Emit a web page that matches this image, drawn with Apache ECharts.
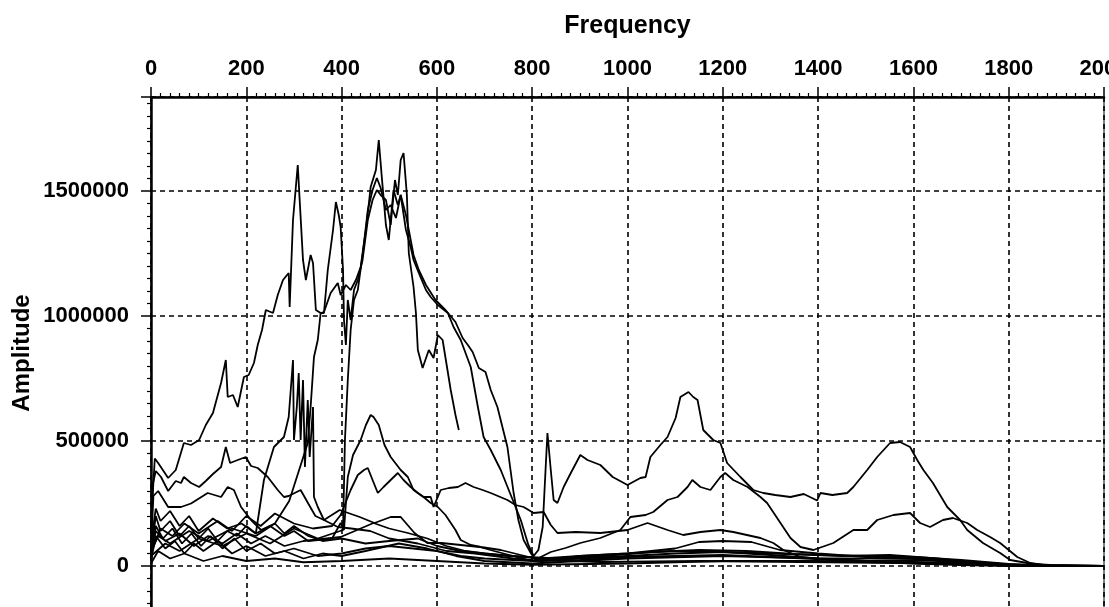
<!DOCTYPE html>
<html>
<head>
<meta charset="utf-8">
<script src="https://cdn.jsdelivr.net/npm/echarts@6/dist/echarts.min.js"></script>
<style>
  html, body { margin: 0; padding: 0; background: #fff; }
  #chart { width: 1109px; height: 607px; }
</style>
</head>
<body>
<div id="chart"></div>
<script>
// Spectra: each trace is a list of [frequency, amplitude] points.
const traceA = [
  [0,150000],[4,300000],[8,430000],[15,412000],[36,352000],[52,384000],[69,492000],[84,484000],
  [101,504000],[115,564000],[130,612000],[147,732000],[157,824000],[161,676000],[172,684000],
  [182,636000],[195,756000],[205,764000],[216,812000],[224,884000],[233,944000],[241,1024000],
  [256,1012000],[266,1084000],[277,1144000],[289,1172000],[291,1036000],[298,1384000],
  [308,1604000],[312,1464000],[319,1224000],[325,1144000],[335,1244000],[340,1212000],
  [346,1024000],[356,1012000],[363,1016000],[377,1092000],[392,1132000],[398,1084000],
  [409,1124000],[419,1104000],[430,1144000],[440,1196000],[451,1344000],[461,1516000],
  [472,1584000],[478,1704000],[484,1564000],[493,1364000],[499,1304000],[509,1504000],
  [518,1444000],[524,1484000],[535,1344000],[545,1276000],[551,1224000],[562,1172000],
  [577,1104000],[587,1076000],[602,1044000],[623,1012000],[635,956000],[650,904000],
  [671,796000],[686,636000],[698,516000],[713,464000],[734,384000],[755,284000],[776,184000],
  [792,84000],[803,40000],[813,64000],[822,156000],[828,384000],[832,532000],[839,384000],
  [845,264000],[853,252000],[866,316000],[881,372000],[901,444000],[916,424000],[943,404000],
  [969,356000],[1000,324000],[1027,352000],[1038,356000],[1048,436000],[1069,484000],
  [1084,516000],[1101,592000],[1111,676000],[1128,696000],[1138,676000],[1147,664000],
  [1159,544000],[1180,504000],[1195,492000],[1209,412000],[1237,356000],[1264,304000],
  [1285,292000],[1310,284000],[1342,276000],[1370,288000],[1398,262000],[1405,292000],
  [1430,284000],[1461,292000],[1474,316000],[1503,384000],[1524,436000],[1551,492000],
  [1572,496000],[1593,476000],[1608,424000],[1621,384000],[1641,332000],[1671,236000],
  [1698,184000],[1713,144000],[1746,92000],[1782,52000],[1803,24000],[1851,8000],[1887,4000],
  [2000,0]
];
const traceB = [
  [0,60000],[15,120000],[40,90000],[80,140000],[120,100000],[170,150000],[220,120000],
  [260,170000],[290,260000],[329,492000],[335,636000],[342,836000],[350,904000],[356,1012000],
  [363,1012000],[371,1184000],[382,1344000],[388,1456000],[394,1404000],[398,1356000],
  [403,1184000],[405,984000],[409,884000],[413,1064000],[419,984000],[426,1104000],
  [434,1144000],[444,1224000],[455,1384000],[465,1464000],[474,1504000],[482,1484000],
  [493,1464000],[503,1364000],[512,1544000],[518,1484000],[524,1624000],[530,1652000],
  [537,1484000],[541,1252000],[551,1116000],[556,1012000],[560,864000],[570,792000],
  [583,864000],[593,832000],[602,924000],[612,904000],[629,704000],[639,604000],[646,544000]
];
const traceC = [
  [0,40000],[30,90000],[60,60000],[100,110000],[150,80000],[200,130000],[250,90000],
  [300,150000],[350,110000],[403,144000],[407,504000],[413,744000],[419,944000],[426,1064000],
  [434,1104000],[444,1244000],[455,1424000],[465,1504000],[474,1552000],[482,1512000],
  [493,1424000],[503,1444000],[514,1392000],[524,1484000],[535,1404000],[545,1304000],
  [551,1244000],[562,1184000],[577,1124000],[597,1064000],[618,1024000],[639,976000],
  [654,912000],[665,884000],[675,856000],[688,792000],[702,776000],[713,704000],[727,636000],
  [748,476000],[761,292000],[771,184000],[782,104000],[797,52000],[807,24000],[818,36000],
  [839,56000],[870,72000],[901,92000],[943,112000],[985,144000],[1006,196000],[1038,204000],
  [1054,216000],[1084,264000],[1105,276000],[1126,316000],[1136,344000],[1153,316000],
  [1174,304000],[1195,356000],[1205,372000],[1222,344000],[1252,316000],[1279,276000],
  [1293,252000],[1321,172000],[1342,112000],[1363,76000],[1390,64000],[1432,92000],
  [1474,144000],[1503,144000],[1524,184000],[1558,204000],[1593,212000],[1614,172000],
  [1635,156000],[1662,184000],[1683,192000],[1713,172000],[1734,144000],[1761,116000],
  [1782,92000],[1818,36000],[1845,12000],[1887,0],[2000,0]
];
const traceD = [
  [0,90000],[10,230000],[20,180000],[40,220000],[60,160000],[80,200000],[100,140000],
  [130,190000],[160,150000],[190,170000],[220,130000],[250,160000],[280,120000],[300,140000],
  [330,100000],[380,110000],[398,172000],[405,144000],[413,356000],[424,444000],[440,504000],
  [451,564000],[461,604000],[467,596000],[478,564000],[490,484000],[503,436000],[524,384000],
  [539,356000],[551,304000],[572,276000],[587,276000],[593,236000],[608,304000],[625,312000],
  [644,316000],[660,332000],[677,316000],[696,304000],[713,292000],[748,264000],[765,244000],
  [782,236000],[803,212000],[824,216000],[839,164000],[853,132000],[891,136000],[943,132000],
  [1000,144000],[1042,172000],[1084,144000],[1117,124000],[1153,136000],[1195,144000],
  [1222,136000],[1279,112000],[1306,92000],[1327,64000],[1363,36000],[1426,24000],
  [1510,20000],[1614,24000],[1698,16000],[1782,8000],[1866,0],[2000,0]
];
const traceE = [
  [0,50000],[20,150000],[45,120000],[70,170000],[100,130000],[140,180000],[170,140000],
  [200,200000],[230,160000],[260,210000],[300,170000],[340,150000],[380,160000],[398,204000],
  [419,304000],[434,364000],[447,384000],[455,392000],[465,344000],[476,292000],[488,316000],
  [503,344000],[518,372000],[530,344000],[545,316000],[560,292000],[572,276000],[587,252000],
  [602,236000],[618,204000],[639,144000],[650,104000],[671,84000],[692,76000],[734,64000],
  [776,44000],[818,24000],[943,16000],[1153,20000],[1363,16000],[1572,12000],[1782,4000],
  [2000,0]
];
const traceF = [
  [0,100000],[4,330000],[10,380000],[21,356000],[36,300000],[52,340000],[63,332000],
  [69,356000],[84,332000],[101,316000],[115,340000],[130,368000],[147,396000],[157,476000],
  [166,412000],[182,424000],[199,436000],[210,400000],[224,392000],[245,356000],[266,304000],
  [279,276000],[289,280000],[314,304000],[330,250000],[345,200000],[363,184000],[396,224000],
  [438,196000],[469,172000],[503,196000],[524,196000],[553,132000],[580,92000],[610,92000],
  [650,84000],[690,76000],[720,60000],[760,40000],[800,20000],[900,24000],[1000,36000],
  [1100,40000],[1200,44000],[1300,36000],[1400,28000],[1500,20000],[1600,16000],
  [1700,12000],[1800,4000],[1900,0],[2000,0]
];
const traceG = [
  [0,60000],[5,280000],[15,300000],[36,236000],[63,236000],[84,250000],[119,292000],
  [147,276000],[161,316000],[174,304000],[189,236000],[210,184000],[231,144000],[260,170000],
  [280,130000],[300,160000],[330,120000],[360,100000],[400,110000],[450,90000],[500,100000],
  [560,110000],[600,80000],[650,60000],[700,50000],[750,40000],[850,30000],[950,40000],
  [1050,56000],[1150,64000],[1250,60000],[1350,48000],[1450,40000],[1550,44000],
  [1650,30000],[1750,10000],[1850,0],[2000,0]
];
const traceH = [
  [0,50000],[10,200000],[20,140000],[40,180000],[60,120000],[80,160000],[100,110000],
  [120,150000],[140,100000],[160,140000],[180,120000],[200,160000],[220,130000],[237,344000],
  [258,476000],[279,516000],[289,596000],[298,824000],[300,504000],[306,636000],[310,772000],
  [314,504000],[319,744000],[323,396000],[329,664000],[333,436000],[340,636000],[342,276000],
  [350,236000],[363,184000],[392,156000],[420,150000],[460,140000],[500,110000],[560,90000],
  [620,60000],[680,50000],[760,30000],[820,20000],[900,40000],[1000,50000],[1100,60000],
  [1200,56000],[1300,50000],[1400,44000],[1500,40000],[1600,36000],[1700,24000],[1800,8000],
  [1900,0],[2000,0]
];
const traceI = [
  [0,30000],[10,160000],[25,110000],[45,150000],[65,90000],[85,130000],[105,80000],
  [125,120000],[150,70000],[175,110000],[200,60000],[230,90000],[260,50000],[300,70000],
  [350,40000],[400,50000],[450,70000],[500,80000],[550,70000],[600,60000],[650,40000],
  [700,30000],[800,20000],[900,30000],[1000,40000],[1100,50000],[1200,56000],[1300,44000],
  [1400,30000],[1500,20000],[1600,10000],[1700,4000],[1800,0],[2000,0]
];
const traceJ = [
  [0,20000],[10,120000],[30,70000],[50,100000],[70,50000],[90,90000],[110,60000],
  [140,100000],[170,50000],[200,80000],[240,40000],[280,60000],[320,30000],[360,50000],
  [400,40000],[450,60000],[520,90000],[580,70000],[640,40000],[700,20000],[800,10000],
  [900,20000],[1000,30000],[1200,40000],[1400,30000],[1600,30000],[1700,16000],[1800,4000],
  [2000,0]
];
const traceK = [
  [0,10000],[15,60000],[40,30000],[70,50000],[110,20000],[150,40000],[200,20000],
  [260,30000],[320,15000],[400,20000],[500,30000],[600,20000],[700,10000],[800,5000],
  [1000,10000],[1200,20000],[1400,20000],[1600,12000],[1800,2000],[2000,0]
];
const traceL = [
  [0,40000],[10,140000],[30,100000],[60,130000],[90,80000],[120,120000],[150,90000],
  [180,130000],[210,90000],[240,120000],[280,80000],[320,100000],[398,116000],[440,150000],
  [467,172000],[500,150000],[539,132000],[580,110000],[620,80000],[660,60000],[700,50000],
  [760,40000],[820,30000],[900,40000],[1000,50000],[1100,70000],[1150,96000],[1200,100000],
  [1260,96000],[1320,64000],[1400,50000],[1500,36000],[1600,30000],[1700,20000],
  [1800,6000],[1900,0],[2000,0]
];
const traces = [traceA, traceB, traceC, traceD, traceE, traceF, traceG, traceH, traceI, traceJ, traceK, traceL];

// Axis ranges and tick spacing
const freqMin = 0, freqMax = 2000, freqStep = 200;
const ampMin = -500000, ampMax = 1876000, ampStep = 500000;

const boldFont = "'Liberation Sans', Arial, sans-serif";

const chart = echarts.init(document.getElementById('chart'), null, { renderer: 'canvas' });

const dashed = { color: '#000', width: 1.6, type: [5, 4] };

chart.setOption({
  animation: false,
  backgroundColor: '#fff',
  grid: [
    // plot area; its lower part runs past the bottom of the page
    { left: 151, right: 5, top: 97, height: 594, outerBoundsMode: 'none', containLabel: false,
      show: true, borderColor: '#000', borderWidth: 1, backgroundColor: 'transparent' },
    // carrier for the vertical axis title
    { left: 151, right: 5, top: 97, height: 512, outerBoundsMode: 'none', containLabel: false, show: false }
  ],
  xAxis: [{
    type: 'value',
    gridIndex: 0,
    position: 'top',
    min: freqMin, max: freqMax, interval: freqStep,
    name: 'Frequency',
    nameLocation: 'middle',
    nameGap: 58,
    nameTextStyle: { fontFamily: boldFont, fontWeight: 'bold', fontSize: 25, color: '#000' },
    axisLine: { show: true, onZero: false, lineStyle: { color: '#000', width: 2.5 } },
    axisTick: { show: true, inside: false, length: 10, lineStyle: { color: '#000', width: 1.5 } },
    minorTick: { show: true, splitNumber: 10, length: 4, lineStyle: { color: '#000', width: 1.2 } },
    axisLabel: {
      margin: 17, fontFamily: boldFont, fontWeight: 'bold', fontSize: 22, color: '#000',
      formatter: v => String(v)
    },
    splitLine: { show: true, lineStyle: dashed }
  }, {
    type: 'value', gridIndex: 1, min: 0, max: 1, show: false
  }],
  yAxis: [{
    type: 'value',
    gridIndex: 0,
    min: ampMin, max: ampMax, interval: ampStep,
    axisLine: { show: true, onZero: false, lineStyle: { color: '#000', width: 2.5 } },
    axisTick: { show: true, inside: false, length: 10, lineStyle: { color: '#000', width: 1.5 } },
    minorTick: { show: true, splitNumber: 10, length: 4, lineStyle: { color: '#000', width: 1.2 } },
    axisLabel: {
      margin: 22, fontFamily: boldFont, fontWeight: 'bold', fontSize: 22, color: '#000',
      formatter: v => (v >= 0 && v % ampStep === 0) ? String(v) : ''
    },
    splitLine: { show: true, lineStyle: dashed }
  }, {
    type: 'value',
    gridIndex: 1,
    min: 0, max: 1,
    name: 'Amplitude',
    nameLocation: 'middle',
    nameRotate: 90,
    nameGap: 117,
    nameTextStyle: { fontFamily: boldFont, fontWeight: 'bold', fontSize: 24, color: '#000' },
    axisLine: { show: false },
    axisTick: { show: false },
    axisLabel: { show: false },
    splitLine: { show: false }
  }],
  series: traces.map(t => ({
    type: 'line',
    xAxisIndex: 0,
    yAxisIndex: 0,
    data: t,
    showSymbol: false,
    symbol: 'none',
    clip: true,
    lineStyle: { color: '#000', width: 1.8 },
    emphasis: { disabled: true }
  }))
});
</script>
</body>
</html>
